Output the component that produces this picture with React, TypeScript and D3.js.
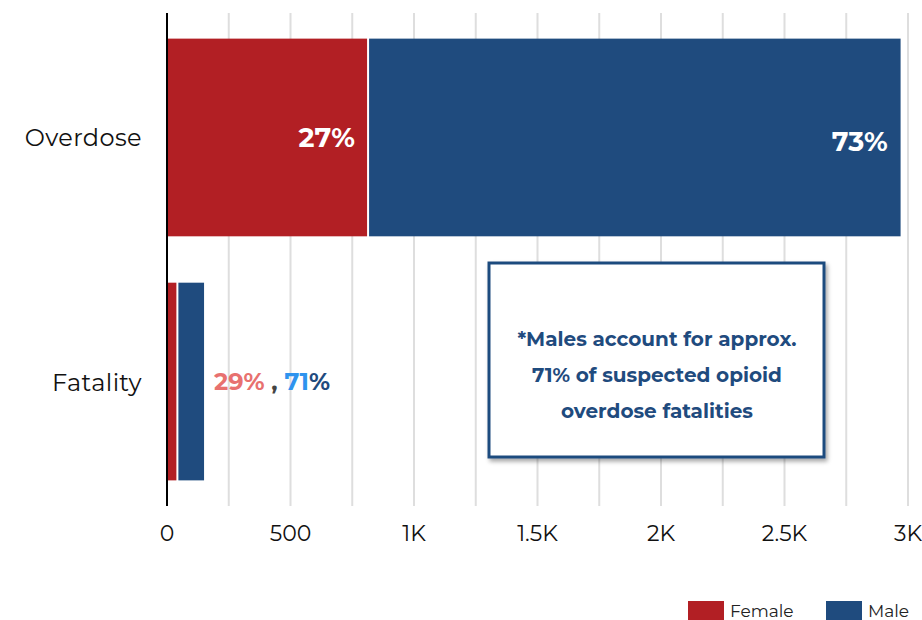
import React from "react";
import * as d3 from "d3";

const categories = ["Overdose", "Fatality"];
const femaleValues = [810, 38];
const maleValues = [2160, 112];
const femalePct = ["27%", "29%"];
const malePct = ["73%", "71%"];
const xTicks = [0, 500, 1000, 1500, 2000, 2500, 3000];
const gridValues = d3.range(0, 3001, 250);
const noteLines = [
  "*Males account for approx.",
  "71% of suspected opioid",
  "overdose fatalities",
];
const legendItems = ["Female", "Male"];

const W = 922;
const H = 620;
const RED = "#b21f24";
const BLUE = "#1f4b7e";
const FONT = "Montserrat, 'Open Sans', 'DejaVu Sans', sans-serif";

const fmt = (v: number) => (v >= 1000 ? `${v / 1000}K` : `${v}`);

export default function App() {
  const x = d3.scaleLinear().domain([0, 3000]).range([167, 908]);
  const y = d3
    .scaleBand<string>()
    .domain(categories)
    .range([13, 506])
    .paddingInner(0.19)
    .paddingOuter(0.105);
  const colors = d3.scaleOrdinal<string, string>().domain(legendItems).range([RED, BLUE]);
  const bw = y.bandwidth();

  return (
    <svg
      width={W}
      height={H}
      style={{ position: "absolute", left: 0, top: 0, background: "#fff" }}
      fontFamily={FONT}
    >
      <defs>
        <filter id="shadow" x="-10%" y="-10%" width="130%" height="130%">
          <feDropShadow dx="2" dy="3" stdDeviation="2" floodColor="#000" floodOpacity="0.35" />
        </filter>
      </defs>
      {/* gridlines */}
      {gridValues.map((v) => (
        <line key={v} x1={x(v)} x2={x(v)} y1={13} y2={506} stroke="#dedede" strokeWidth={2} />
      ))}
      {/* bars */}
      {categories.map((c, i) => {
        const y0 = y(c)!;
        const f = femaleValues[i];
        const m = maleValues[i];
        return (
          <g key={c}>
            <rect x={x(0)} y={y0} width={x(f) - x(0)} height={bw} fill={RED} />
            <rect x={x(f) + 2} y={y0} width={x(f + m) - x(f) - 2} height={bw} fill={BLUE} />
          </g>
        );
      })}
      {/* overdose labels */}
      <text
        x={x(femaleValues[0]) - 12}
        y={y("Overdose")! + bw / 2 + 10}
        textAnchor="end"
        fill="#fff"
        fontWeight="bold"
        fontSize={27}
      >
        {femalePct[0]}
      </text>
      <text
        x={x(femaleValues[0] + maleValues[0]) - 13}
        y={y("Overdose")! + bw / 2 + 14}
        textAnchor="end"
        fill="#fff"
        fontWeight="bold"
        fontSize={27}
      >
        {malePct[0]}
      </text>
      {/* fatality label */}
      <text
        x={x(femaleValues[1] + maleValues[1]) + 10}
        y={y("Fatality")! + bw / 2 + 8}
        fontWeight="bold"
        fontSize={24}
      >
        <tspan fill="#e8716f">{femalePct[1]}</tspan>
        <tspan fill="#444"> , </tspan>
        <tspan fill="#2e93ee">{malePct[1].replace("%", "")}</tspan>
        <tspan fill={BLUE}>%</tspan>
      </text>
      {/* axis line */}
      <line x1={x(0)} x2={x(0)} y1={13} y2={506} stroke="#000" strokeWidth={2} />
      {/* category labels */}
      {categories.map((c) => (
        <text
          key={c}
          x={142}
          y={y(c)! + bw / 2 + 9}
          textAnchor="end"
          fontSize={24}
          letterSpacing={0.4}
          fill="#111"
        >
          {c}
        </text>
      ))}
      {/* x tick labels */}
      {xTicks.map((v) => (
        <text key={v} x={x(v)} y={541} textAnchor="middle" fontSize={22} fill="#111">
          {fmt(v)}
        </text>
      ))}
      {/* annotation */}
      <rect
        x={489}
        y={263}
        width={335}
        height={194}
        fill="#fff"
        stroke={BLUE}
        strokeWidth={3}
        filter="url(#shadow)"
      />
      {noteLines.map((l, i) => (
        <text
          key={i}
          x={657}
          y={346 + i * 36}
          textAnchor="middle"
          fontWeight="bold"
          fontSize={20}
          fill={BLUE}
        >
          {l}
        </text>
      ))}
      {/* legend */}
      {legendItems.map((k, i) => {
        const lx = i === 0 ? 688 : 826;
        return (
          <g key={k}>
            <rect x={lx} y={601} width={36} height={19} fill={colors(k)} />
            <text x={lx + 42} y={617} fontSize={17} fill="#222">
              {k}
            </text>
          </g>
        );
      })}
    </svg>
  );
}
